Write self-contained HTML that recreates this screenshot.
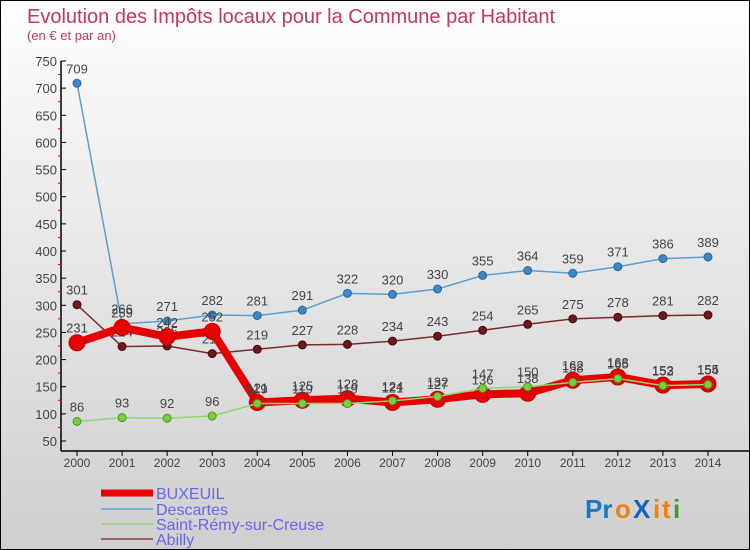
<!DOCTYPE html>
<html><head><meta charset="utf-8"><style>
body{margin:0}
#c{width:748px;height:548px;border:1px solid #000;position:relative;background:linear-gradient(#fff 0%,#ececec 35%,#cfcfcf 100%);font-family:"Liberation Sans",sans-serif;overflow:hidden}
</style></head><body>
<div id="c">
<svg id="s" width="748" height="548" style="position:absolute;left:0;top:0">
<text x="26" y="22" font-size="20" fill="#c8365f">Evolution des Impôts locaux pour la Commune par Habitant</text>
<text x="26" y="39" font-size="13" fill="#c8365f">(en € et par an)</text>
<g id="axes"></g><g id="series"></g>
<g>
<line x1="100" y1="492" x2="152" y2="492" stroke="#e00" stroke-width="7"/>
<text x="155" y="498" font-size="16" fill="#6666ee">BUXEUIL</text>
<line x1="100" y1="508" x2="152" y2="508" stroke="#7fb0d8" stroke-width="2"/>
<text x="155" y="514" font-size="16" fill="#6666ee">Descartes</text>
<line x1="100" y1="523" x2="152" y2="523" stroke="#9fd88a" stroke-width="2"/>
<text x="155" y="529" font-size="16" fill="#6666ee">Saint-Rémy-sur-Creuse</text>
<line x1="100" y1="538" x2="152" y2="538" stroke="#a06060" stroke-width="2"/>
<text x="155" y="544" font-size="16" fill="#6666ee">Abilly</text>
</g>
<g font-size="26" font-weight="bold">
<text x="584" y="517" fill="#1a78c8">Pr</text><text x="614" y="517" fill="#f08010">o</text><text x="632" y="517" fill="#1a60c0">X</text><text x="652" y="517" fill="#f08010">i</text><text x="661" y="517" fill="#f08010">t</text><text x="672" y="517" fill="#30a030">i</text>
</g>
</svg>
</div>
<script>
const years=[2000,2001,2002,2003,2004,2005,2006,2007,2008,2009,2010,2011,2012,2013,2014];
const yTicks=[50,100,150,200,250,300,350,400,450,500,550,600,650,700,750];
const buxeuil=[231,259,242,252,121,125,128,121,127,136,138,162,168,153,155];
const descartes=[709,266,271,282,281,291,322,320,330,355,364,359,371,386,389];
const saintRemy=[86,93,92,96,119,119,119,124,132,147,150,158,165,152,154];
const abilly=[301,224,225,211,219,227,228,234,243,254,265,275,278,281,282];
const NS="http://www.w3.org/2000/svg";
function X(i){return 76+i*45.07;}
function Y(v){return 440-(v-50)*(380/700);}
function mk(t,a,p){const e=document.createElementNS(NS,t);for(const k in a)e.setAttribute(k,a[k]);p.appendChild(e);return e;}
const ax=document.getElementById('axes');
let l=mk('line',{x1:60,y1:60,x2:60,y2:450,stroke:'#000','stroke-width':1.5},ax);


l=mk('line',{x1:60,y1:450,x2:748,y2:450,stroke:'#000','stroke-width':1.5},ax);


yTicks.forEach((v,i)=>{
 mk('line',{x1:60,y1:Y(v),x2:65,y2:Y(v),stroke:'#000'},ax);
 if(i<yTicks.length-1)mk('line',{x1:57,y1:Y(v+25),x2:60,y2:Y(v+25),stroke:'#e00'},ax);
 const t=mk('text',{x:56,y:Y(v)+5,'font-size':13,fill:'#444','text-anchor':'end'},ax);t.textContent=v;
 
 
});
years.forEach((y,i)=>{
 mk('line',{x1:X(i),y1:450,x2:X(i),y2:455,stroke:'#000'},ax);
 const t=mk('text',{x:X(i),y:466,'font-size':12,fill:'#444','text-anchor':'middle'},ax);t.textContent=y;
 
 
});
const sg=document.getElementById('series');
function draw(name,vals,col,w,r,dot,dotStroke){
 const g=mk('g',{},sg);
 
 
 mk('polyline',{points:vals.map((v,i)=>X(i)+','+Y(v)).join(' '),fill:'none',stroke:col,'stroke-width':w,'stroke-linejoin':'round'},g);
 vals.forEach((v,i)=>{
  const c=mk('circle',{cx:X(i),cy:Y(v),r:r,fill:dot,stroke:dotStroke,'stroke-width':1},g);
  
  
  const t=mk('text',{x:X(i),y:Y(v)-10,'font-size':13,fill:'#444','text-anchor':'middle'},g);t.textContent=v;
  
  
 });
}
draw('abilly',abilly,'#7a2a2a',1.5,4,'#6a1a1a','#4a0a0a');
draw('descartes',descartes,'#5a9fd0',1.5,4,'#3a88c8','#2a6a9a');
draw('buxeuil',buxeuil,'#e80000',8,8,'#e80000','#c00000');
draw('saint-remy',saintRemy,'#8fd870',1.5,4,'#7acc40','#4a9a20');
</script>
</body></html>
